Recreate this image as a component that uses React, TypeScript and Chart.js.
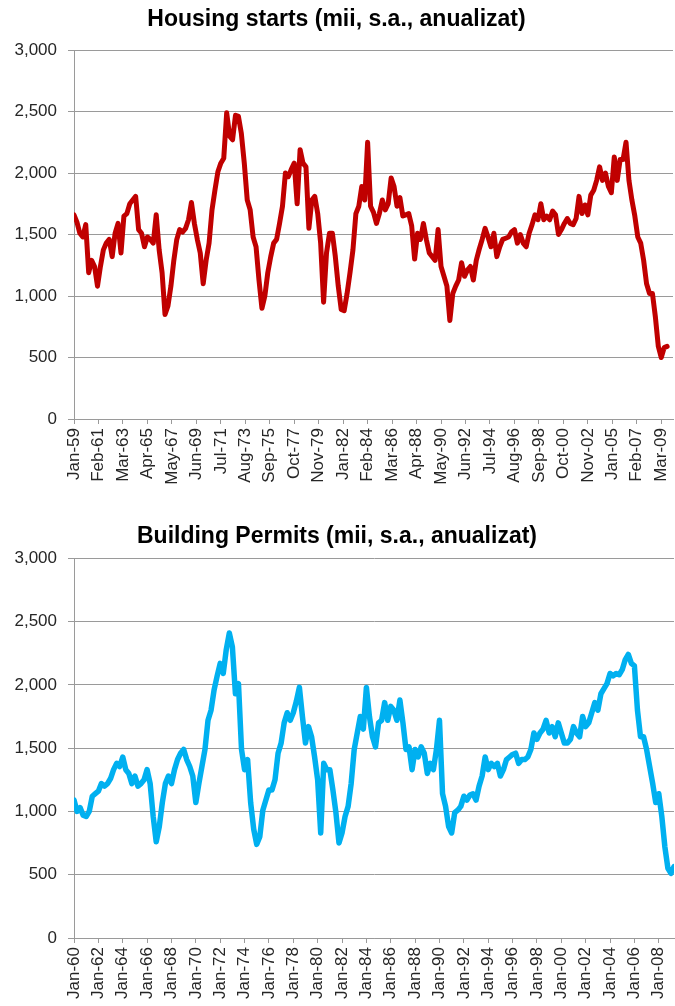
import React, { useEffect, useRef } from "react";
import { Chart, registerables } from "chart.js";

Chart.register(...registerables);

// ---------- DATA ----------
const startsTitle = "Housing starts (mii, s.a., anualizat)";
const permitsTitle = "Building Permits (mii, s.a., anualizat)";

// tick labels (every 25 months for starts, every 24 months for permits)
const startsTickLabels = [
  "Jan-59", "Feb-61", "Mar-63", "Apr-65", "May-67", "Jun-69", "Jul-71", "Aug-73",
  "Sep-75", "Oct-77", "Nov-79", "Jan-82", "Feb-84", "Mar-86", "Apr-88", "May-90",
  "Jun-92", "Jul-94", "Aug-96", "Sep-98", "Oct-00", "Nov-02", "Jan-05", "Feb-07", "Mar-09",
];
const permitsTickLabels = [
  "Jan-60", "Jan-62", "Jan-64", "Jan-66", "Jan-68", "Jan-70", "Jan-72", "Jan-74",
  "Jan-76", "Jan-78", "Jan-80", "Jan-82", "Jan-84", "Jan-86", "Jan-88", "Jan-90",
  "Jan-92", "Jan-94", "Jan-96", "Jan-98", "Jan-00", "Jan-02", "Jan-04", "Jan-06", "Jan-08",
];
const startsTickStep = 25;
const permitsTickStep = 24;

const yTickValues = [0, 500, 1000, 1500, 2000, 2500, 3000];

// Housing starts, thousands, read every 3 months from Jan-59
const startsValues = [
  1660, 1600, 1510, 1480, 1580, 1190, 1290, 1240, 1080, 1240,
  1375, 1430, 1460, 1320, 1510, 1590, 1350, 1650, 1670, 1750,
  1780, 1810, 1540, 1510, 1400, 1480, 1460, 1430, 1660, 1375,
  1190, 850, 920, 1080, 1290, 1460, 1540, 1520, 1550, 1620,
  1760, 1590, 1460, 1350, 1100, 1290, 1430, 1700, 1860, 2010,
  2080, 2120, 2490, 2300, 2270, 2470, 2460, 2320, 2080, 1780,
  1700, 1480, 1400, 1130, 900, 1000, 1190, 1320, 1430, 1460,
  1590, 1730, 2000, 1970, 2030, 2080, 1750, 2190, 2080, 2050,
  1550, 1780, 1810, 1670, 1430, 950, 1350, 1510, 1510, 1320,
  1080, 890, 880, 1020, 1190, 1375, 1670, 1730, 1890, 1780,
  2250, 1730, 1680, 1590, 1670, 1780, 1700, 1750, 1960, 1890,
  1730, 1800, 1650, 1660, 1670, 1570, 1300, 1510, 1460, 1590,
  1460, 1350, 1320, 1290, 1540, 1240, 1160, 1080, 800, 1020,
  1080, 1130, 1270, 1160, 1210, 1240, 1130, 1290, 1380, 1460,
  1550, 1480, 1400, 1510, 1320, 1400, 1460, 1470, 1480, 1520,
  1540, 1430, 1500, 1430, 1400, 1510, 1580, 1660, 1620, 1750,
  1620, 1650, 1620, 1690, 1660, 1500, 1540, 1590, 1630, 1590,
  1580, 1630, 1810, 1670, 1740, 1660, 1820, 1860, 1940, 2050,
  1940, 2000, 1890, 1840, 2130, 1940, 2110, 2110, 2250, 1940,
  1780, 1650, 1480, 1430, 1290, 1100, 1020, 1020, 830, 590,
  500, 580, 590,
];

// Building permits, thousands, read every 3 months from Jan-60
const permitsValues = [
  1090, 1000, 1030, 970, 960, 1000, 1120, 1140, 1160, 1220,
  1200, 1220, 1260, 1330, 1380, 1355, 1430, 1330, 1300, 1220,
  1280, 1200, 1220, 1250, 1330, 1220, 960, 760, 880, 1070,
  1220, 1280, 1220, 1330, 1410, 1460, 1490, 1410, 1355, 1280,
  1070, 1220, 1355, 1490, 1720, 1800, 1960, 2070, 2170, 2090,
  2280, 2410, 2300, 1930, 2010, 1490, 1330, 1410, 1070, 860,
  740, 800, 1010, 1090, 1170, 1170, 1250, 1460, 1540, 1700,
  1780, 1720, 1780, 1870, 1980, 1750, 1540, 1670, 1590, 1430,
  1250, 830, 1380, 1330, 1330, 1170, 990, 750, 830, 960,
  1040, 1220, 1490, 1620, 1750, 1650, 1980, 1750, 1590, 1510,
  1700, 1720, 1860, 1720, 1830, 1800, 1720, 1880, 1700, 1490,
  1510, 1330, 1490, 1430, 1510, 1460, 1300, 1380, 1330, 1490,
  1720, 1140, 1040, 880, 830, 990, 1010, 1040, 1120, 1090,
  1130, 1140, 1090, 1200, 1280, 1430, 1330, 1380, 1355, 1380,
  1280, 1330, 1410, 1430, 1450, 1460, 1380, 1410, 1410, 1430,
  1490, 1620, 1570, 1620, 1650, 1720, 1620, 1670, 1590, 1700,
  1620, 1540, 1540, 1570, 1670, 1620, 1590, 1750, 1670, 1700,
  1780, 1860, 1800, 1930, 1970, 2010, 2090, 2070, 2090, 2080,
  2120, 2200, 2240, 2170, 2150, 1800, 1590, 1590, 1490, 1355,
  1220, 1070, 1140, 960, 720, 550, 510, 565,
];
const monthsPerPoint = 3;

// ---------- STYLE ----------
const FONT = "'Liberation Sans', Arial, sans-serif";
const GRID = "#9a9a9a";
const LABEL = "#262626";

type PanelProps = {
  title: string;
  values: number[];
  tickLabels: string[];
  tickStep: number;
  xMax: number;
  color: string;
  lineWidth: number;
  height: number;
  titlePadTop: number;
  titlePadBottom: number;
  xAxisHeight: number;
  padRight: number;
};

function Panel(p: PanelProps) {
  const ref = useRef<HTMLCanvasElement | null>(null);
  useEffect(() => {
    if (!ref.current) return;
    const points = p.values.map((v, i) => ({ x: i * monthsPerPoint, y: v }));
    const chart = new Chart(ref.current, {
      type: "line",
      data: {
        datasets: [
          {
            data: points,
            borderColor: p.color,
            backgroundColor: p.color,
            borderWidth: p.lineWidth,
            pointRadius: 0,
            tension: 0,
            borderJoinStyle: "round",
            borderCapStyle: "round",
            fill: false,
          },
        ],
      },
      options: {
        responsive: false,
        animation: false,
        events: [],
        layout: { padding: { left: 0, right: p.padRight, top: 0, bottom: 0 } },
        plugins: {
          legend: { display: false },
          tooltip: { enabled: false },
          title: {
            display: true,
            text: p.title,
            color: "#000",
            font: { family: FONT, size: 23, weight: "bold" },
            padding: { top: p.titlePadTop, bottom: p.titlePadBottom },
          },
        },
        scales: {
          x: {
            type: "linear",
            min: 0,
            max: p.xMax,
            afterBuildTicks: (axis: any) => {
              axis.ticks = p.tickLabels.map((_, i) => ({ value: i * p.tickStep }));
            },
            afterFit: (axis: any) => {
              axis.height = p.xAxisHeight;
              axis.paddingLeft = 0;
              axis.paddingRight = 0;
            },
            ticks: {
              autoSkip: false,
              minRotation: 90,
              maxRotation: 90,
              padding: 4,
              color: LABEL,
              font: { family: FONT, size: 17 },
              callback: (_v: any, i: number) => p.tickLabels[i],
            },
            grid: {
              drawOnChartArea: false,
              drawTicks: true,
              tickLength: 5,
              color: GRID,
            },
            border: { display: true, color: GRID },
          },
          y: {
            min: 0,
            max: 3000,
            afterBuildTicks: (axis: any) => {
              axis.ticks = yTickValues.map((v) => ({ value: v }));
            },
            afterFit: (axis: any) => {
              axis.width = 74;
              axis.paddingTop = 0;
              axis.paddingBottom = 0;
            },
            ticks: {
              padding: 11,
              color: LABEL,
              font: { family: FONT, size: 17 },
              callback: (v: any) => Number(v).toLocaleString("en-US"),
            },
            grid: { color: GRID, tickLength: 6, drawTicks: true },
            border: { display: true, color: GRID },
          },
        },
      } as any,
    });
    return () => chart.destroy();
  }, []);
  return (
    <canvas
      ref={ref}
      width={675}
      height={p.height}
      style={{ display: "block", width: 675, height: p.height }}
    />
  );
}

export default function App() {
  return (
    <div
      style={{
        position: "absolute",
        left: 0,
        top: 0,
        width: 675,
        height: 1006,
        background: "#fff",
        overflow: "hidden",
      }}
    >
      <Panel
        title={startsTitle}
        values={startsValues}
        tickLabels={startsTickLabels}
        tickStep={startsTickStep}
        xMax={612}
        color="#C00000"
        lineWidth={5}
        height={505}
        titlePadTop={6.2}
        titlePadBottom={16.2}
        xAxisHeight={86}
        padRight={2}
      />
      <Panel
        title={permitsTitle}
        values={permitsValues}
        tickLabels={permitsTickLabels}
        tickStep={permitsTickStep}
        xMax={591}
        color="#00B0F0"
        lineWidth={5.5}
        height={501}
        titlePadTop={18.2}
        titlePadBottom={7.5}
        xAxisHeight={68}
        padRight={1}
      />
    </div>
  );
}
